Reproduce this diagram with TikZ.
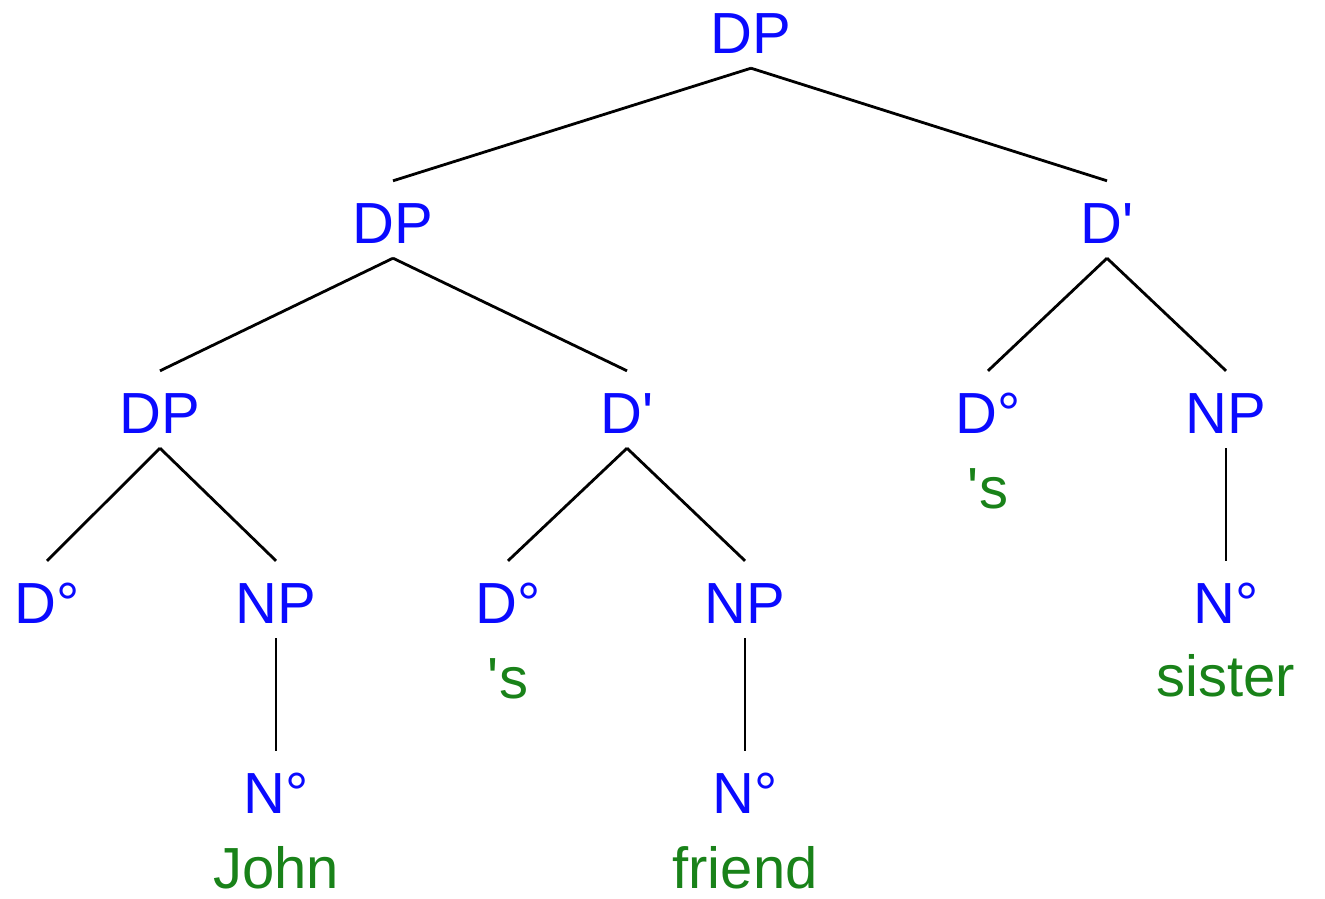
\documentclass[tikz,border=0pt]{standalone}
\usepackage{fontspec}
\setmainfont{Liberation Sans}
\usepackage{tikz}

\definecolor{catblue}{RGB}{10,10,255}
\definecolor{wordgreen}{RGB}{25,130,25}

\begin{document}
\begin{tikzpicture}[x=1pt, y=-1pt,
  cat/.style = {text=catblue, font=\fontsize{58}{60}\selectfont, anchor=base,
    inner sep=0pt, text height=62pt, text depth=15pt},
  word/.style = {text=wordgreen, font=\fontsize{58}{60}\selectfont, anchor=base,
    inner sep=0pt},
  branch/.style = {draw, line width=2.8pt},
  unary/.style = {draw, line width=1.8pt}]
  \useasboundingbox (0,0) rectangle (1325,898);
  % categories, one row per level
  \node[cat] (m-1)   at (751,53)   {DP};
  \node[cat] (m-2-1) at (393,243)  {DP};
  \node[cat] (m-2-2) at (1107,243) {D\textquotesingle};
  \node[cat] (m-3-1) at (160,433)  {DP};
  \node[cat] (m-3-2) at (627,433)  {D\textquotesingle};
  \node[cat] (m-3-3) at (988,433)  {D°};
  \node[cat] (m-3-4) at (1226,433) {NP};
  \node[cat] (m-4-1) at (47,623)   {D°};
  \node[cat] (m-4-2) at (276,623)  {NP};
  \node[cat] (m-4-3) at (508,623)  {D°};
  \node[cat] (m-4-4) at (745,623)  {NP};
  \node[cat] (m-4-5) at (1226,623) {N°};
  \node[cat] (m-5-1) at (276,813)  {N°};
  \node[cat] (m-5-2) at (745,813)  {N°};
  % words
  \node[word] (w-1) at (276,888)  {John};
  \node[word] (w-2) at (508,698)  {\textquotesingle s};
  \node[word] (w-3) at (745,888)  {friend};
  \node[word] (w-4) at (988,508)  {\textquotesingle s};
  \node[word] (w-5) at (1226,696) {sister};
  \path[branch]
    (m-1.south)   edge (m-2-1.north) edge (m-2-2.north)
    (m-2-1.south) edge (m-3-1.north) edge (m-3-2.north)
    (m-2-2.south) edge (m-3-3.north) edge (m-3-4.north)
    (m-3-1.south) edge (m-4-1.north) edge (m-4-2.north)
    (m-3-2.south) edge (m-4-3.north) edge (m-4-4.north);
  \path[unary]
    (m-3-4.south) edge (m-4-5.north)
    (m-4-2.south) edge (m-5-1.north)
    (m-4-4.south) edge (m-5-2.north);
\end{tikzpicture}
\end{document}
